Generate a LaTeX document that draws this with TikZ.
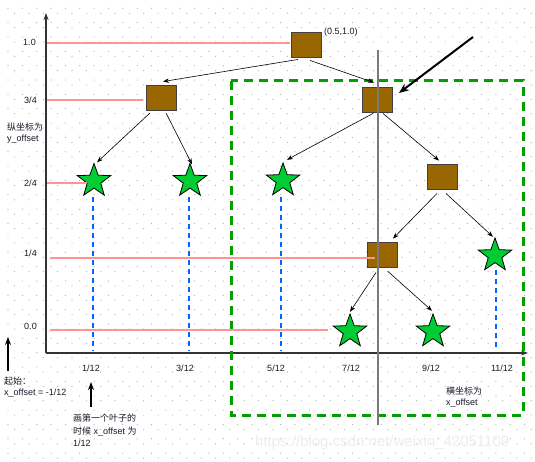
\documentclass[tikz,border=0pt]{standalone}
\usepackage{fontspec}
\setmainfont{Liberation Sans}
\newfontfamily\cjk{Noto Sans CJK SC}
\usetikzlibrary{shapes.geometric,arrows.meta}
\definecolor{boxbrown}{HTML}{996600}
\definecolor{stargreen}{HTML}{00CC33}
\definecolor{frameg}{HTML}{00A000}
\definecolor{guidered}{HTML}{FF9494}
\definecolor{guideblue}{HTML}{0066FF}
\definecolor{txt}{HTML}{1A1A2A}
\begin{document}
\begin{tikzpicture}[x=1pt,y=-1pt,
  font=\fontsize{9}{11}\selectfont,
  box/.style={draw=black!75, line width=0.9pt, fill=boxbrown, minimum width=30pt, minimum height=25pt, inner sep=0pt},
  starnode/.style={star, star points=5, star point ratio=2.45, minimum size=35pt, inner sep=0pt, draw=black, line width=0.8pt, fill=stargreen},
  arr/.style={-{Stealth[length=6pt,width=4.5pt]}, line width=0.6pt, black},
  bigarr/.style={-{Stealth[length=10pt,width=8pt]}, line width=2pt, black},
  uparr/.style={-{Stealth[length=8pt,width=6pt]}, line width=1.6pt, black},
  axis/.style={-{Stealth[length=7pt,width=5pt]}, line width=1.3pt, black!80},
  redl/.style={guidered, line width=2.2pt},
  bluel/.style={guideblue, line width=2.3pt, dash pattern=on 5pt off 4pt},
  frame/.style={frameg, line width=3pt, dash pattern=on 9pt off 6pt},
  grayl/.style={black!52, line width=2.8pt},
  lbl/.style={inner sep=0pt, text=txt},
  lw/.style={inner sep=0pt, text=txt, anchor=base west}]
\useasboundingbox (0,0) rectangle (535,462);
\fill[white] (0,0) rectangle (535,462);
% dot grid (two interleaved lattices)
\foreach \i in {0,...,37} {
  \foreach \j in {0,...,32} {
    \fill[black!32] (8+\i*14.35, 8.3+\j*14.35) circle (0.6pt);
    \fill[black!32] (14.6+\i*14.35, 13.3+\j*14.35) circle (0.6pt);
  }
}
% watermark
\node[anchor=west, inner sep=0pt, text=black!7, font=\fontsize{15}{15}\selectfont] (wm) at (255,443) {https://blog.csdn.net/weixin\_42051109};

% axes
\coordinate (O) at (46,353);
\coordinate (ytop) at (46,13);
\coordinate (xend) at (528,353);
\draw[axis] (O) -- (ytop);
\draw[axis] (O) -- (xend);

% green frame
\draw[frame] (231,81) rectangle (523,415);

% boxes
\node[box] (r)  at (306,44.5) {};
\node[box] (b1) at (161,97.5) {};
\node[box] (b2) at (377.5,99.5) {};
\node[box] (b3) at (442.5,176.5) {};
\node[box] (b4) at (382.5,254.5) {};

% stars
\node[starnode] (s1) at (94,181) {};
\node[starnode] (s2) at (190,181) {};
\node[starnode] (s3) at (283,180.5) {};
\node[starnode] (s4) at (495,255.5) {};
\node[starnode] (s5) at (350,331.5) {};
\node[starnode] (s6) at (433,331.5) {};

% red guide lines
\draw[redl] (47,43) -- (290,43);
\draw[redl] (47,100) -- (143,100);
\draw[redl] (47,183) -- (87,183);
\draw[redl] (50,258) -- (375,258);
\draw[redl] (50,330) -- (328,330);

% blue guide lines
\draw[bluel] (93,197) -- (93,351);
\draw[bluel] (189,197) -- (189,351);
\draw[bluel] (281,197) -- (281,351);
\draw[bluel] (496,270) -- (496,347);

% tree arrows
\draw[arr] ([shift={(-8,2)}]r.south) -- ([shift={(2,-3)}]b1.north);
\draw[arr] ([shift={(4,3)}]r.south) -- ([shift={(-3.5,-4)}]b2.north);
\draw[arr] ([shift={(-11,2.5)}]b1.south) -- ([shift={(3,0)}]s1.north);
\draw[arr] ([shift={(5,2.5)}]b1.south) -- ([shift={(2,2)}]s2.north);
\draw[arr] ([shift={(-4.5,1)}]b2.south) -- ([shift={(4,-2)}]s3.north);
\draw[arr] ([shift={(5.5,1)}]b2.south) -- ([shift={(-3.5,-3)}]b3.north);
\draw[arr] ([shift={(-5.5,4)}]b3.south) -- ([shift={(10.5,-3)}]b4.north);
\draw[arr] ([shift={(3.5,4)}]b3.south) -- ([shift={(-2,0)}]s4.north);
\draw[arr] ([shift={(-6.5,5)}]b4.south) -- ([shift={(0,-1)}]s5.north);
\draw[arr] ([shift={(5.5,4)}]b4.south) -- ([shift={(-1,-2)}]s6.north);

% big pointer arrow
\coordinate (bigstart) at (473,37);
\draw[bigarr] (bigstart) -- ([shift={(6,-6.5)}]b2.east);

% gray vertical line
\coordinate (gtop) at (378,50);
\coordinate (gbot) at (378,425);
\draw[grayl] (gtop) -- (gbot);

% y labels
\node[lbl] (y10) at (29.5,42) {1.0};
\node[lbl] (y34) at (30.5,100) {3/4};
\node[lbl] (y24) at (30.5,183) {2/4};
\node[lbl] (y14) at (30.5,253) {1/4};
\node[lbl] (y00) at (30.5,326) {0.0};
\node[lw] (ya) at (7,131) {\cjk 纵坐标为};
\node[lw] (yb) at (7,142) {y\_offset};

% x labels
\node[lbl] (x1) at (91,368) {1/12};
\node[lbl] (x3) at (185,368) {3/12};
\node[lbl] (x5) at (276,368) {5/12};
\node[lbl] (x7) at (351,368) {7/12};
\node[lbl] (x9) at (431,368) {9/12};
\node[lbl] (x11) at (502,368) {11/12};
\node[lw] (xa) at (446,394.5) {\cjk 横坐标为};
\node[lw] (xb) at (446,405.5) {x\_offset};

% root label
\node[lbl, anchor=west] (rl) at (324,32) {(0.5,1.0)};

% start annotation
\coordinate (sa0) at (8,371);
\coordinate (sa1) at (8,337);
\draw[uparr] (sa0) -- (sa1);
\node[lw] (sta) at (4,384.5) {\cjk 起始：};
\node[lw] (stb) at (4,395.5) {x\_offset = -1/12};

% first leaf annotation
\coordinate (fa0) at (91,407);
\coordinate (fa1) at (91,382);
\draw[uparr] (fa0) -- (fa1);
\node[lw] (fla) at (73,421.5) {\cjk 画第一个叶子的};
\node[lw] (flb) at (73,434.5) {{\cjk 时候} x\_offset {\cjk 为}};
\node[lw] (flc) at (73,446.5) {1/12};
\end{tikzpicture}
\end{document}
